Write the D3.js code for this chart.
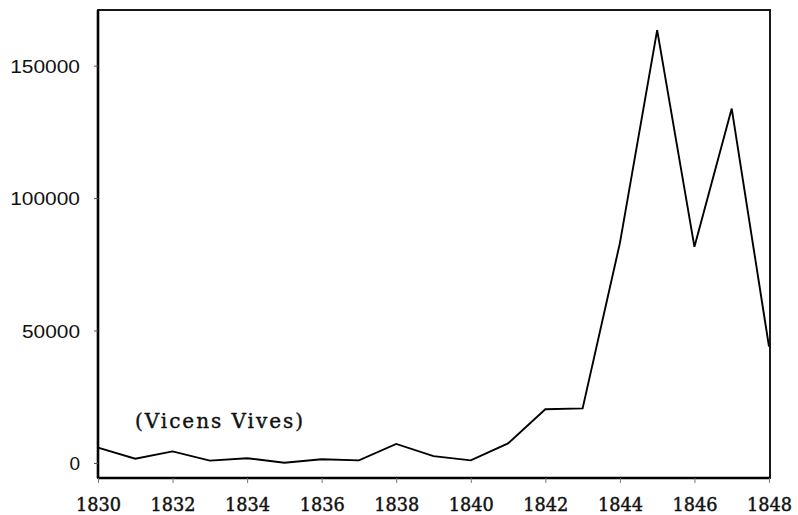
<!DOCTYPE html>
<html><head><meta charset="utf-8">
<script src="https://cdn.jsdelivr.net/npm/d3@7"></script>
<style>body{margin:0;background:#fff}svg{display:block}</style>
</head><body>
<script>
const years = [1830,1831,1832,1833,1834,1835,1836,1837,1838,1839,1840,1841,1842,1843,1844,1845,1846,1847,1848];
const values = [5800,1600,4400,900,1800,100,1400,1000,7200,2600,1000,7400,20300,20600,83000,163400,81600,133800,43900];
const xTicks = [1830,1832,1834,1836,1838,1840,1842,1844,1846,1848];
const yTicks = [0,50000,100000,150000];
const annotation = "(Vicens Vives)";

const W=798,H=515;
const L=98,T=10,R=770,B=478;
const svg=d3.select("body").append("svg").attr("width",W).attr("height",H);
const x=d3.scaleLinear().domain([1830,1848]).range([L,769]);
const y=d3.scaleLinear().domain([-5660,171000]).range([B,T]);

// frame
svg.append("rect").attr("x",L).attr("y",T).attr("width",R-L).attr("height",B-T)
  .attr("fill","none").attr("stroke","#000").attr("stroke-width",1.8);
svg.append("line").attr("x1",L).attr("x2",L).attr("y1",T).attr("y2",B).attr("stroke","#000").attr("stroke-width",2.6);
svg.append("line").attr("x1",L).attr("x2",R).attr("y1",B).attr("y2",B).attr("stroke","#000").attr("stroke-width",2.6);

// y axis
const ya=svg.append("g").attr("transform",`translate(${L},0)`)
  .call(d3.axisLeft(y).tickValues(yTicks).tickSize(4).tickPadding(14).tickFormat(d3.format("d")));
ya.select(".domain").remove();
ya.selectAll("line").attr("stroke","#555").attr("stroke-width",1);
ya.selectAll("text").attr("font-family","Liberation Sans, Arial, sans-serif").attr("font-size",19)
  .attr("fill","#111").attr("dy","0.36em").each(function(d){
    const s=String(d); if(s.length>1) d3.select(this).attr("textLength",s.length*11.8-1).attr("lengthAdjust","spacingAndGlyphs");
  });

// x axis
const xa=svg.append("g").attr("transform",`translate(0,${B})`)
  .call(d3.axisBottom(x).tickValues(xTicks).tickSize(5).tickPadding(15).tickFormat(d3.format("d")));
xa.select(".domain").remove();
xa.selectAll("line").attr("stroke","#777").attr("stroke-width",1);
xa.selectAll("text").attr("font-family","DejaVu Serif, serif").attr("font-size",18)
  .attr("fill","#111").attr("stroke","#111").attr("stroke-width",0.45)
  .attr("dy","0.71em").attr("textLength",45).attr("lengthAdjust","spacingAndGlyphs");

// line
svg.append("path").datum(years.map((d,i)=>[d,values[i]]))
  .attr("fill","none").attr("stroke","#000").attr("stroke-width",1.9).attr("stroke-linejoin","miter")
  .attr("d",d3.line().x(d=>x(d[0])).y(d=>y(d[1])));

// annotation
svg.append("text").attr("x",135).attr("y",428).attr("font-family","DejaVu Serif, serif")
  .attr("font-size",20).attr("fill","#111").attr("stroke","#111").attr("stroke-width",0.4)
  .attr("textLength",168).attr("lengthAdjust","spacing")
  .text(annotation);
</script>
</body></html>
